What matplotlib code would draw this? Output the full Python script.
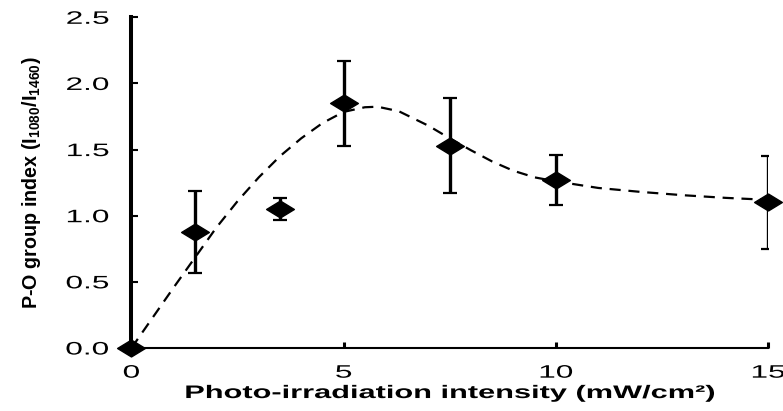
import matplotlib
matplotlib.use("Agg")
import matplotlib.pyplot as plt
from matplotlib.patheffects import AbstractPathEffect
from matplotlib.transforms import Affine2D
from matplotlib.path import Path

# ---- data ----
intensity = [0, 1.5, 3.5, 5, 7.5, 10, 15]
po_index = [0.0, 0.88, 1.05, 1.85, 1.53, 1.27, 1.10]
po_err = [0.0, 0.31, 0.085, 0.32, 0.36, 0.19, 0.35]

curve_x = [0, 0.5, 1.0, 1.5, 2.0, 2.5, 3.0, 3.5, 4.0, 4.5, 5.0, 5.5, 5.8, 6.3,
           7.0, 7.5, 8.0, 8.5, 9.0, 9.5, 10.0, 11.0, 12.0, 13.0, 14.0, 15.0]
curve_y = [0, 0.23, 0.46, 0.685, 0.91, 1.11, 1.29, 1.45, 1.585, 1.70, 1.785,
           1.82, 1.824, 1.79, 1.68, 1.585, 1.495, 1.41, 1.34, 1.29, 1.26,
           1.21, 1.18, 1.155, 1.135, 1.12]

x_ticks = [0, 5, 10, 15]
x_ticklabels = ["0", "5", "10", "15"]
y_ticks = [0.0, 0.5, 1.0, 1.5, 2.0, 2.5]
y_ticklabels = ["0.0", "0.5", "1.0", "1.5", "2.0", "2.5"]

x_label = "Photo-irradiation intensity (mW/cm\u00b2)"
y_label = r"P-O group index (I$_{\mathregular{1080}}$/I$_{\mathregular{1460}}$)"


class Stretch(AbstractPathEffect):
    """Draw text stretched about its alignment anchor (display space)."""
    def __init__(self, text, sx=1.0, sy=1.0):
        super().__init__()
        self._text = text
        self._sx = sx
        self._sy = sy

    def draw_path(self, renderer, gc, tpath, affine, rgbFace=None):
        bb = self._text.get_window_extent(renderer)
        ha = self._text.get_horizontalalignment()
        if ha == "left":
            cx = bb.x0
        elif ha == "right":
            cx = bb.x1
        else:
            cx = 0.5 * (bb.x0 + bb.x1)
        cy = 0.5 * (bb.y0 + bb.y1)
        aff = affine + (Affine2D().translate(-cx, -cy)
                        .scale(self._sx, self._sy).translate(cx, cy))
        renderer.draw_path(gc, tpath, aff, rgbFace)


plt.rcParams["font.family"] = ["Liberation Sans", "DejaVu Sans"]

fig = plt.figure(figsize=(7.83, 4.11), dpi=100)
ax = fig.add_axes([0.1679, 0.1533, 0.8129, 0.8046])

diamond = Path([(-1, 0), (0, 0.61), (1, 0), (0, -0.61), (-1, 0)],
               [Path.MOVETO, Path.LINETO, Path.LINETO, Path.LINETO, Path.CLOSEPOLY])

ax.plot(curve_x, curve_y, color="black", lw=1.6, linestyle=(0, (5, 3.5)), zorder=2)

ax.errorbar(intensity, po_index, yerr=po_err, fmt="none", ecolor="black",
            elinewidth=2.4, capsize=5, capthick=1.6, zorder=3)
ax.plot(intensity, po_index, linestyle="none", marker=diamond, markersize=20,
        color="black", zorder=4, clip_on=False)

ax.set_xlim(0, 15)
ax.set_ylim(0, 2.5)
ax.set_xticks(x_ticks)
ax.set_xticklabels(x_ticklabels)
ax.set_yticks(y_ticks)
ax.set_yticklabels(y_ticklabels)

for s in ["top", "right"]:
    ax.spines[s].set_visible(False)
ax.spines["left"].set_linewidth(2.9)
ax.spines["bottom"].set_linewidth(1.5)

ax.tick_params(axis="x", direction="in", length=4.3, width=2.2, pad=12,
               labelsize=13, colors="black")
ax.tick_params(axis="y", direction="in", length=5, width=1.5, pad=16,
               labelsize=13, colors="black")

xl = ax.set_xlabel(x_label, fontsize=13.1, fontweight="bold")
ax.xaxis.set_label_coords(0.5, -0.112)
yl = ax.set_ylabel(y_label, fontsize=14.2, fontweight="bold")
ax.yaxis.set_label_coords(-0.139, 0.5)

xl.set_path_effects([Stretch(xl, sx=1.69)])
for lab in ax.get_xticklabels():
    lab.set_path_effects([Stretch(lab, sx=1.75)])
for lab in ax.get_yticklabels():
    lab.set_path_effects([Stretch(lab, sx=1.75)])

fig.savefig("out.png", dpi=100)
